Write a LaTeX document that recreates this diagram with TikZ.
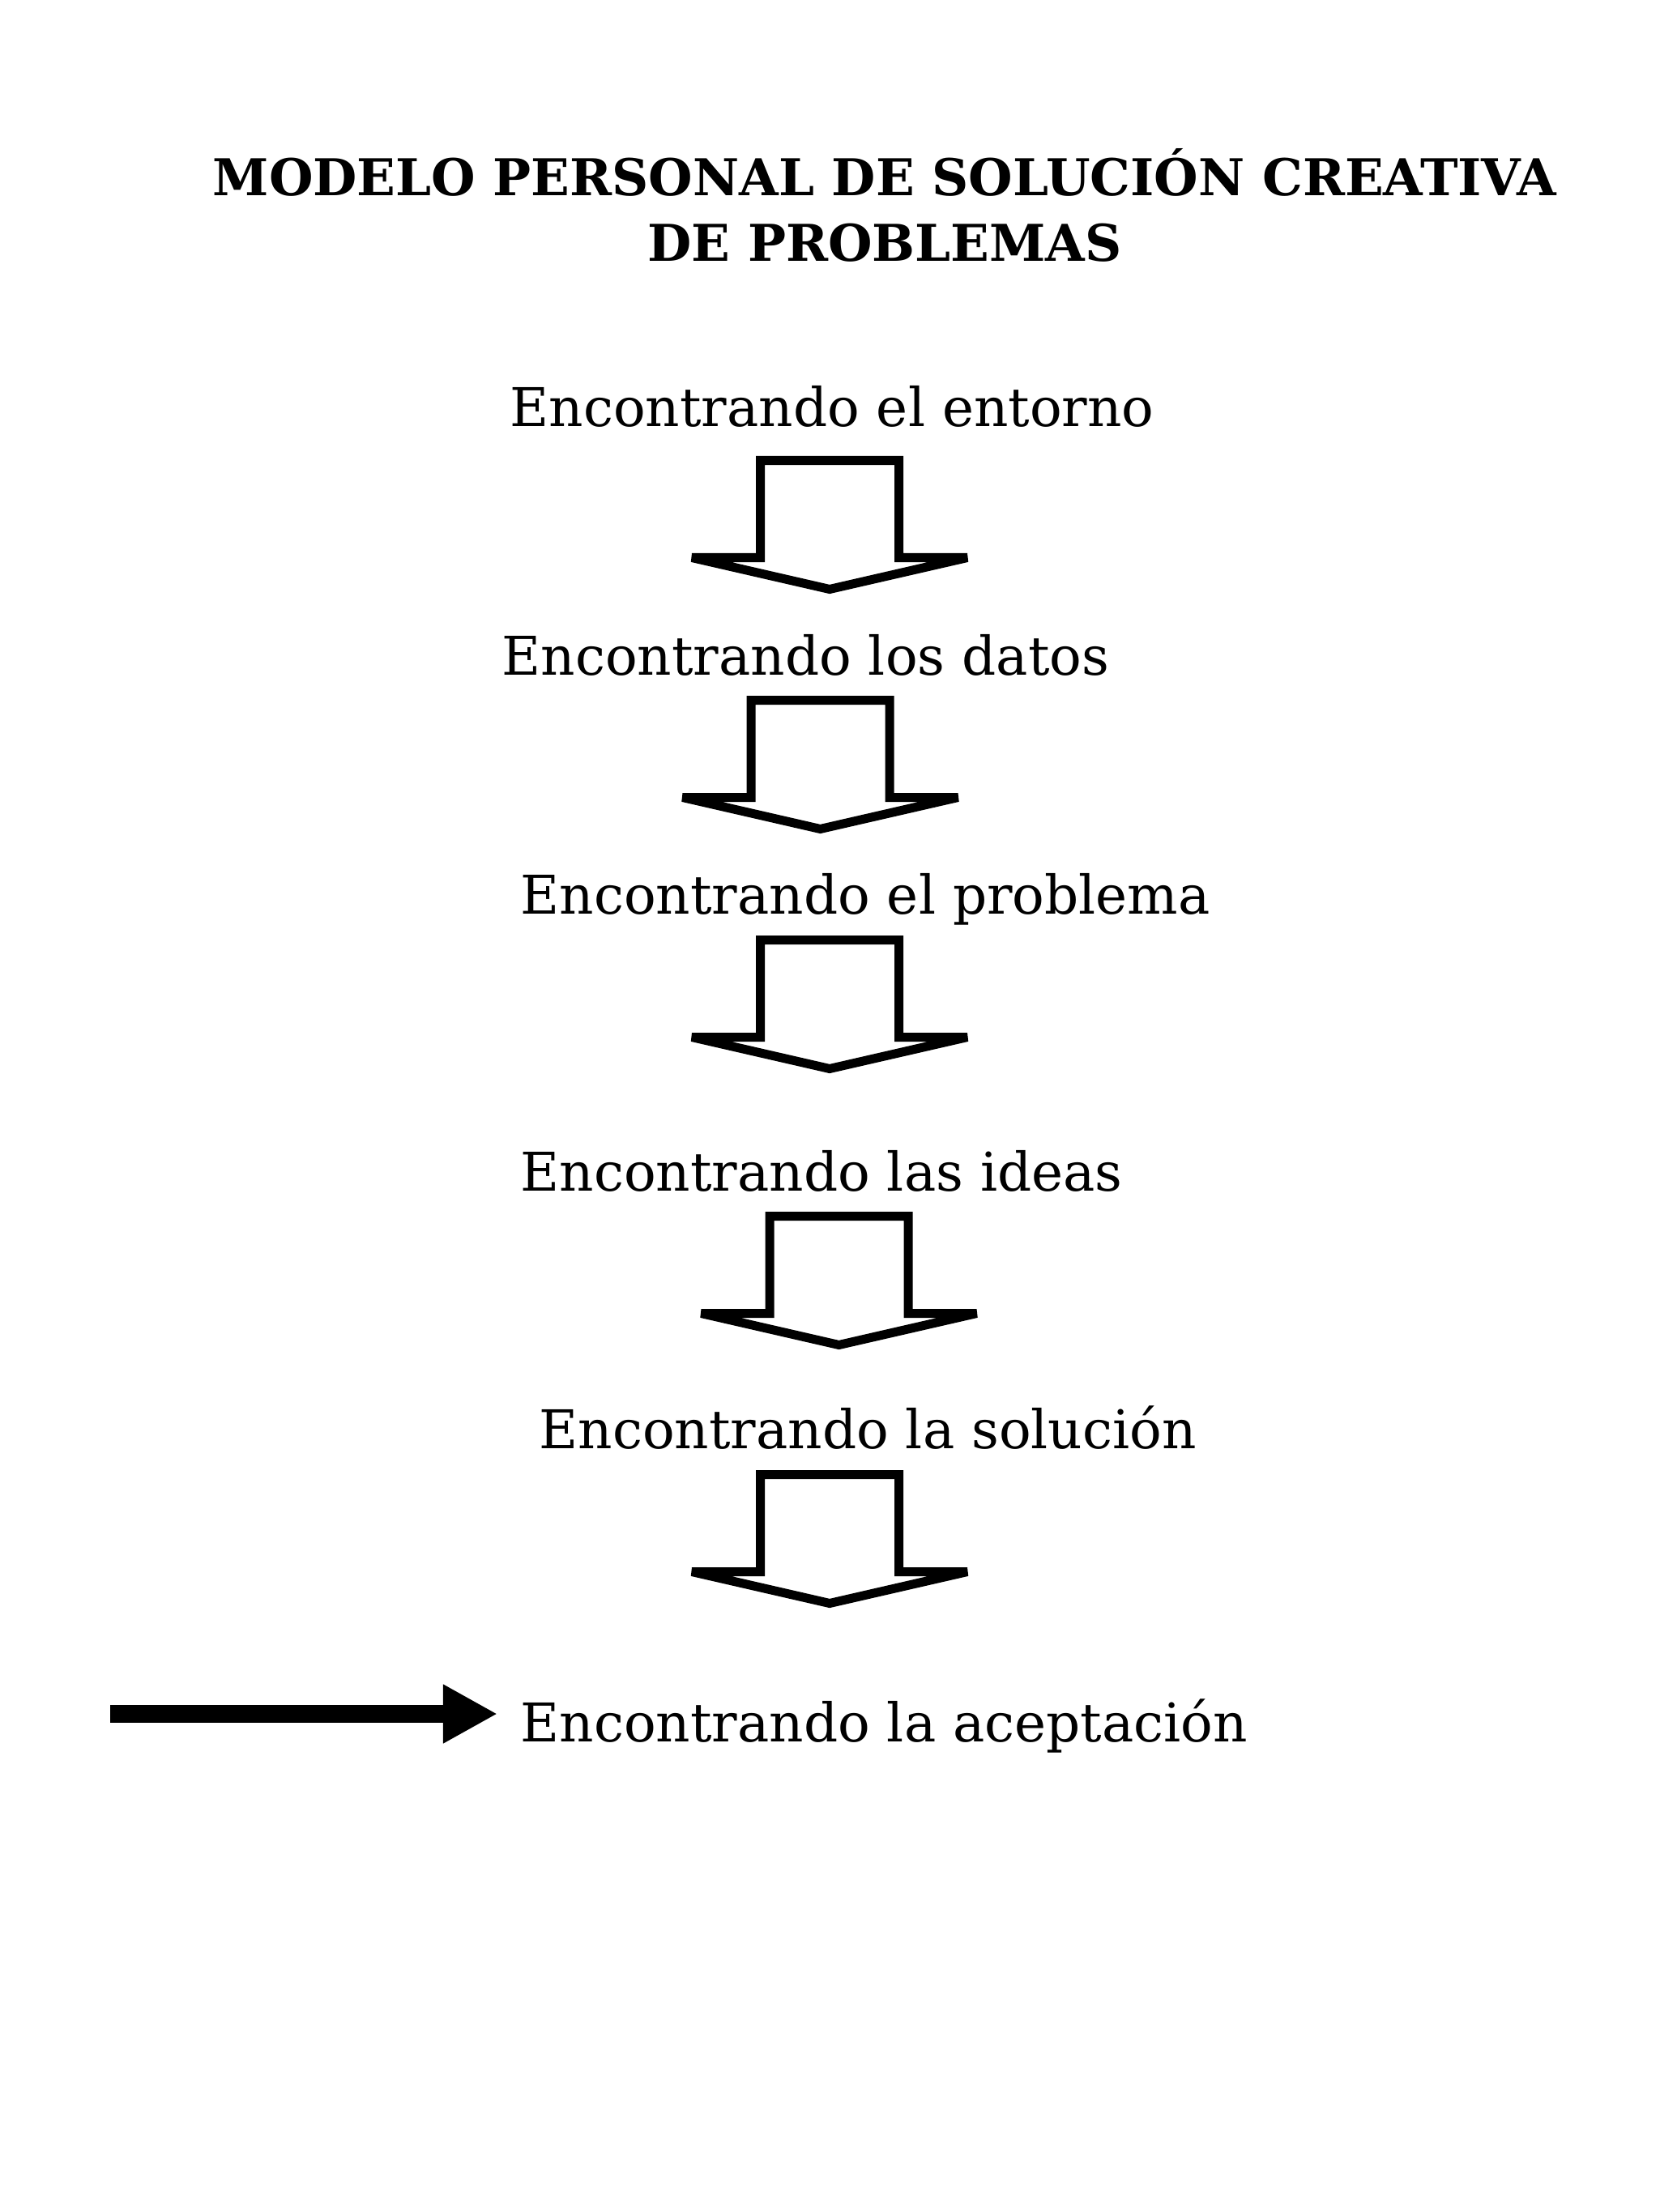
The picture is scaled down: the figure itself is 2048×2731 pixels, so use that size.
\documentclass[tikz,border=0pt]{standalone}
\usepackage{fontspec}
\setmainfont{DejaVu Serif}
\usepackage{tikz}
\usetikzlibrary{arrows.meta,positioning}

\tikzset{
  titulo/.style={anchor=base,inner sep=0pt,font=\bfseries\fontsize{17.8}{22}\selectfont},
  paso/.style={anchor=base west,inner sep=0pt,font=\fontsize{18.75}{22}\selectfont},
  hueca/.style={draw,line width=1.1mm,line join=miter,miter limit=2},
}

\begin{document}
\begin{tikzpicture}[x=0.01cm,y=-0.01cm]
  \useasboundingbox (0,0) rectangle (2048,2731);
  \node[titulo] (tit1) at (1092,242) {MODELO PERSONAL DE SOLUCIÓN CREATIVA};
  \node[titulo] (tit2) at (1092,323) {DE PROBLEMAS};
  \node[paso] (ent) at (629,527) {Encontrando el entorno};
  \node[paso] (dat) at (619,833) {Encontrando los datos};
  \node[paso] (pro) at (642,1128) {Encontrando el problema};
  \node[paso] (ide) at (642,1470) {Encontrando las ideas};
  \node[paso] (sol) at (665,1788) {Encontrando la solución};
  \node[paso] (ace) at (642,2150) {Encontrando la aceptación};
  % flechas huecas entre los pasos
  \foreach \cx/\ty in {1024/568.5,1012.5/864.5,1024/1160.5,1035.5/1501.5,1024/1820.5}
    \draw[hueca] (\cx-85.5,\ty) -- (\cx+85.5,\ty) -- (\cx+85.5,\ty+120) -- (\cx+170,\ty+120)
      -- (\cx,\ty+159) -- (\cx-170,\ty+120) -- (\cx-85.5,\ty+120) -- cycle;
  % flecha llena hacia la aceptacion
  \coordinate (cola) at (136,2116);
  \draw[line width=2.2mm,-{Triangle[length=6.7mm,width=6.8mm]},shorten >=2.8mm] (cola) -- (cola -| ace.west);
\end{tikzpicture}
\end{document}
